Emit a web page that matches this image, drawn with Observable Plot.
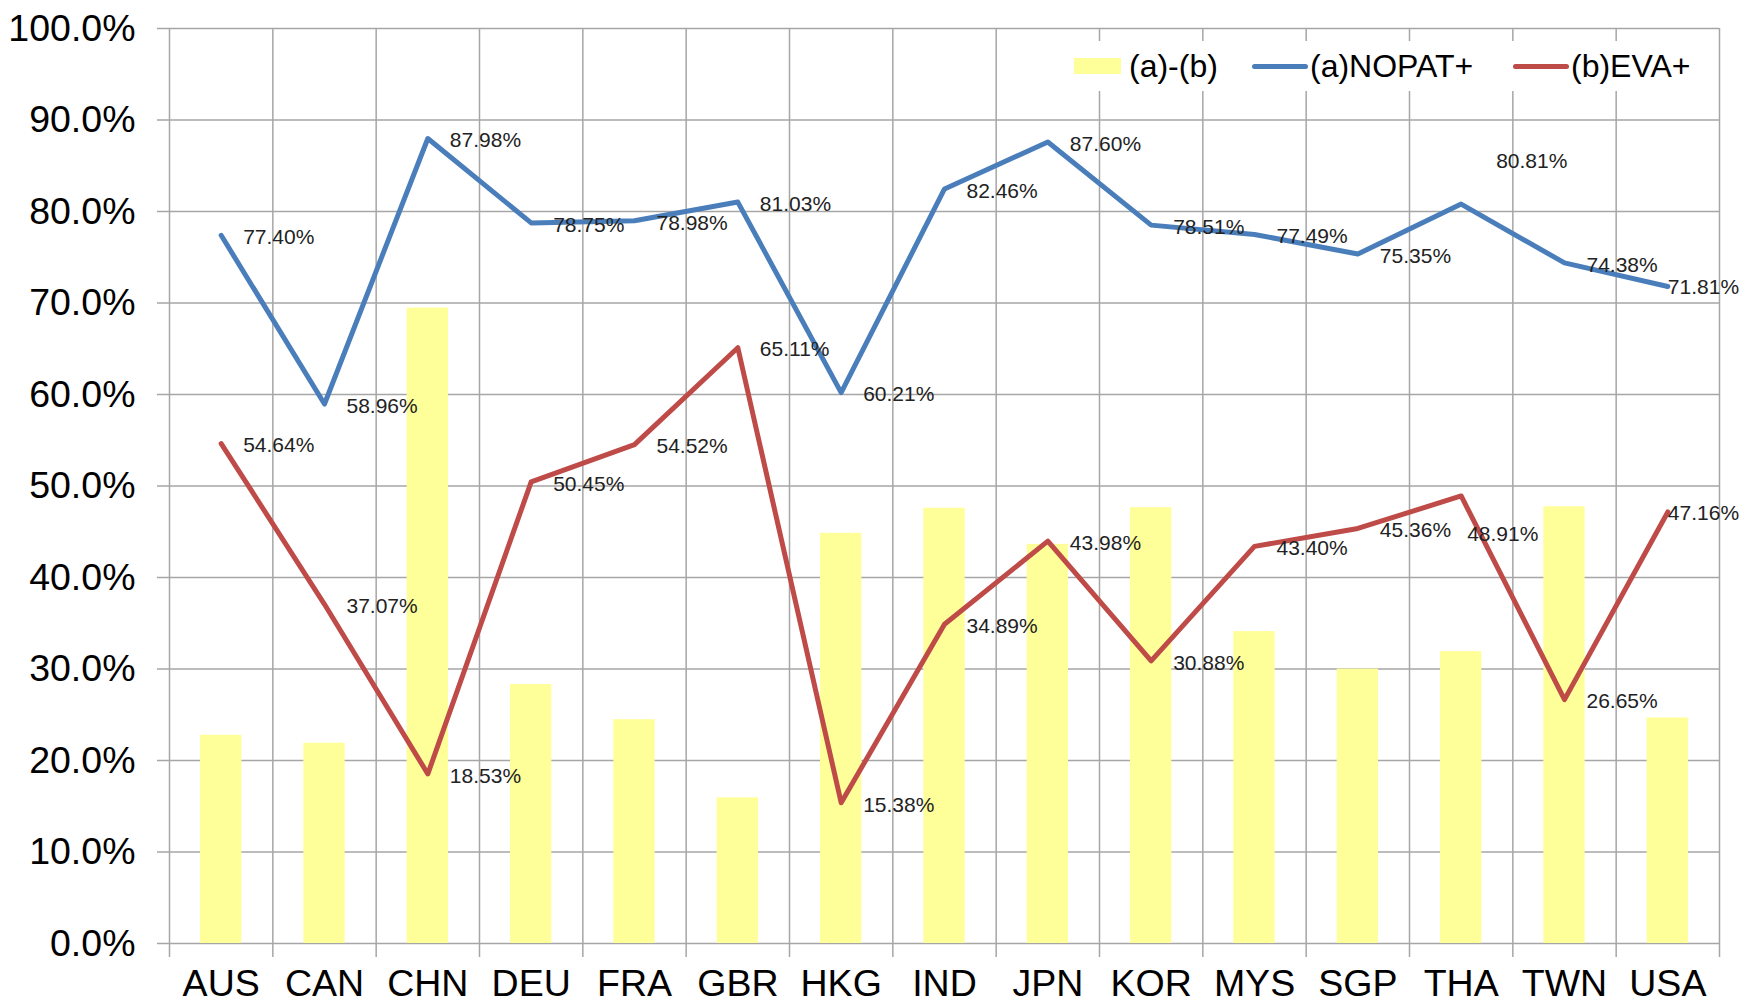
<!DOCTYPE html>
<html>
<head>
<meta charset="utf-8">
<script src="https://cdn.jsdelivr.net/npm/d3@7"></script>
<script src="https://cdn.jsdelivr.net/npm/@observablehq/plot@0.6"></script>
<style>
  html, body { margin: 0; padding: 0; background: #fff; overflow: hidden; }
  #wrap { position: relative; width: 1741px; height: 1004px; font-family: "Liberation Sans", Arial, sans-serif; }
  #wrap svg { display: block; }
  .legend { position: absolute; left: 1062px; top: 41px; width: 652px; height: 50px; background: #fff; }
  .legend .item { position: absolute; top: 0; height: 50px; display: flex; align-items: center; font-size: 32px; color: #000; white-space: nowrap; }
  .sw-bar { width: 47px; height: 16px; background: #FFFF99; margin-right: 8px; }
  .sw-line { width: 56px; height: 5px; border-radius: 2.5px; margin-right: 2px; }
</style>
</head>
<body>
<div id="wrap"></div>
<script>
const countries = ["AUS","CAN","CHN","DEU","FRA","GBR","HKG","IND","JPN","KOR","MYS","SGP","THA","TWN","USA"];
const nopat = [77.40, 58.96, 87.98, 78.75, 78.98, 81.03, 60.21, 82.46, 87.60, 78.51, 77.49, 75.35, 80.81, 74.38, 71.81];
const eva   = [54.64, 37.07, 18.53, 50.45, 54.52, 65.11, 15.38, 34.89, 43.98, 30.88, 43.40, 45.36, 48.91, 26.65, 47.16];
const diff  = [22.76, 21.89, 69.45, 28.30, 24.46, 15.92, 44.83, 47.57, 43.62, 47.63, 34.09, 29.99, 31.90, 47.73, 24.65];
const yTicks = [0, 10, 20, 30, 40, 50, 60, 70, 80, 90, 100];
const seriesNames = ["(a)-(b)", "(a)NOPAT+", "(b)EVA+"];

const rows = countries.map((c, i) => ({country: c, nopat: nopat[i], eva: eva[i], diff: diff[i]}));

const W = 1741, H = 1004;
const mL = 169, mR = 22, mT = 28, mB = 61;
const step = (W - mL - mR) / countries.length;
const blue = "#4A7EBB", red = "#BE4B48", yellow = "#FFFF99", grid = "#A6A6A6";
const fmt = v => v.toFixed(2) + "%";
const lblFont = {fontSize: 21, fill: "#222", fontFamily: "Liberation Sans, Arial, sans-serif"};
const special = new Set(["THA", "USA"]);
const normal = rows.filter(d => !special.has(d.country));
const tha = rows.filter(d => d.country === "THA");
const usa = rows.filter(d => d.country === "USA");

const chart = Plot.plot({
  width: W, height: H,
  marginLeft: mL, marginRight: mR, marginTop: mT, marginBottom: mB,
  style: {fontFamily: "Liberation Sans, Arial, sans-serif", background: "#fff", color: "#000"},
  x: {type: "band", domain: countries, padding: 0, round: false, label: null},
  y: {domain: [0, 100], label: null},
  marks: [
    // horizontal gridlines (extend left as ticks)
    Plot.ruleY(yTicks, {stroke: grid, strokeWidth: 1.5, insetLeft: -12}),
    // vertical gridlines at band edges (extend below as ticks)
    Plot.ruleX(countries, {x: d => d, dx: -step / 2, y1: 100, y2: 0, insetBottom: -14, stroke: grid, strokeWidth: 1.5}),
    Plot.ruleX([countries[countries.length - 1]], {x: d => d, dx: step / 2, y1: 100, y2: 0, insetBottom: -14, stroke: grid, strokeWidth: 1.5}),
    // bars
    Plot.barY(rows, {x: "country", y: "diff", fill: yellow, insetLeft: 31, insetRight: 31}),
    // lines
    Plot.line(rows, {x: "country", y: "nopat", stroke: blue, strokeWidth: 5, strokeLinejoin: "round"}),
    Plot.line(rows, {x: "country", y: "eva", stroke: red, strokeWidth: 5, strokeLinejoin: "round"}),
    // data labels
    Plot.text(normal, {x: "country", y: "nopat", text: d => fmt(d.nopat), textAnchor: "start", dx: 22, dy: 2, ...lblFont}),
    Plot.text(normal, {x: "country", y: "eva", text: d => fmt(d.eva), textAnchor: "start", dx: 22, dy: 2, ...lblFont}),
    Plot.text(tha, {x: "country", y: "nopat", text: d => fmt(d.nopat), textAnchor: "start", dx: 35, dy: -43, ...lblFont}),
    Plot.text(tha, {x: "country", y: "eva", text: d => fmt(d.eva), textAnchor: "start", dx: 6, dy: 38, ...lblFont}),
    Plot.text(usa, {x: "country", y: "nopat", text: d => fmt(d.nopat), textAnchor: "start", dx: 0, dy: 1, ...lblFont}),
    Plot.text(usa, {x: "country", y: "eva", text: d => fmt(d.eva), textAnchor: "start", dx: 0, dy: 1, ...lblFont}),
    // axes
    Plot.axisY(yTicks, {tickSize: 0, tickPadding: 34, tickFormat: d => d.toFixed(1) + "%", fontSize: 37.5, fill: "#000", label: null}),
    Plot.axisX({tickSize: 0, tickPadding: 26, fontSize: 37.5, fill: "#000", label: null})
  ]
});

const wrap = document.getElementById("wrap");
wrap.appendChild(chart);

// legend (inside plot area, top right, white background)
const legend = document.createElement("div");
legend.className = "legend";
const swatches = [
  {left: 12, html: `<span class="sw-bar"></span>${seriesNames[0]}`},
  {left: 190, html: `<span class="sw-line" style="background:${blue}"></span>${seriesNames[1]}`},
  {left: 451, html: `<span class="sw-line" style="background:${red}"></span>${seriesNames[2]}`}
];
for (const s of swatches) {
  const it = document.createElement("div");
  it.className = "item";
  it.style.left = s.left + "px";
  it.innerHTML = s.html;
  legend.appendChild(it);
}
wrap.appendChild(legend);
</script>
</body>
</html>
